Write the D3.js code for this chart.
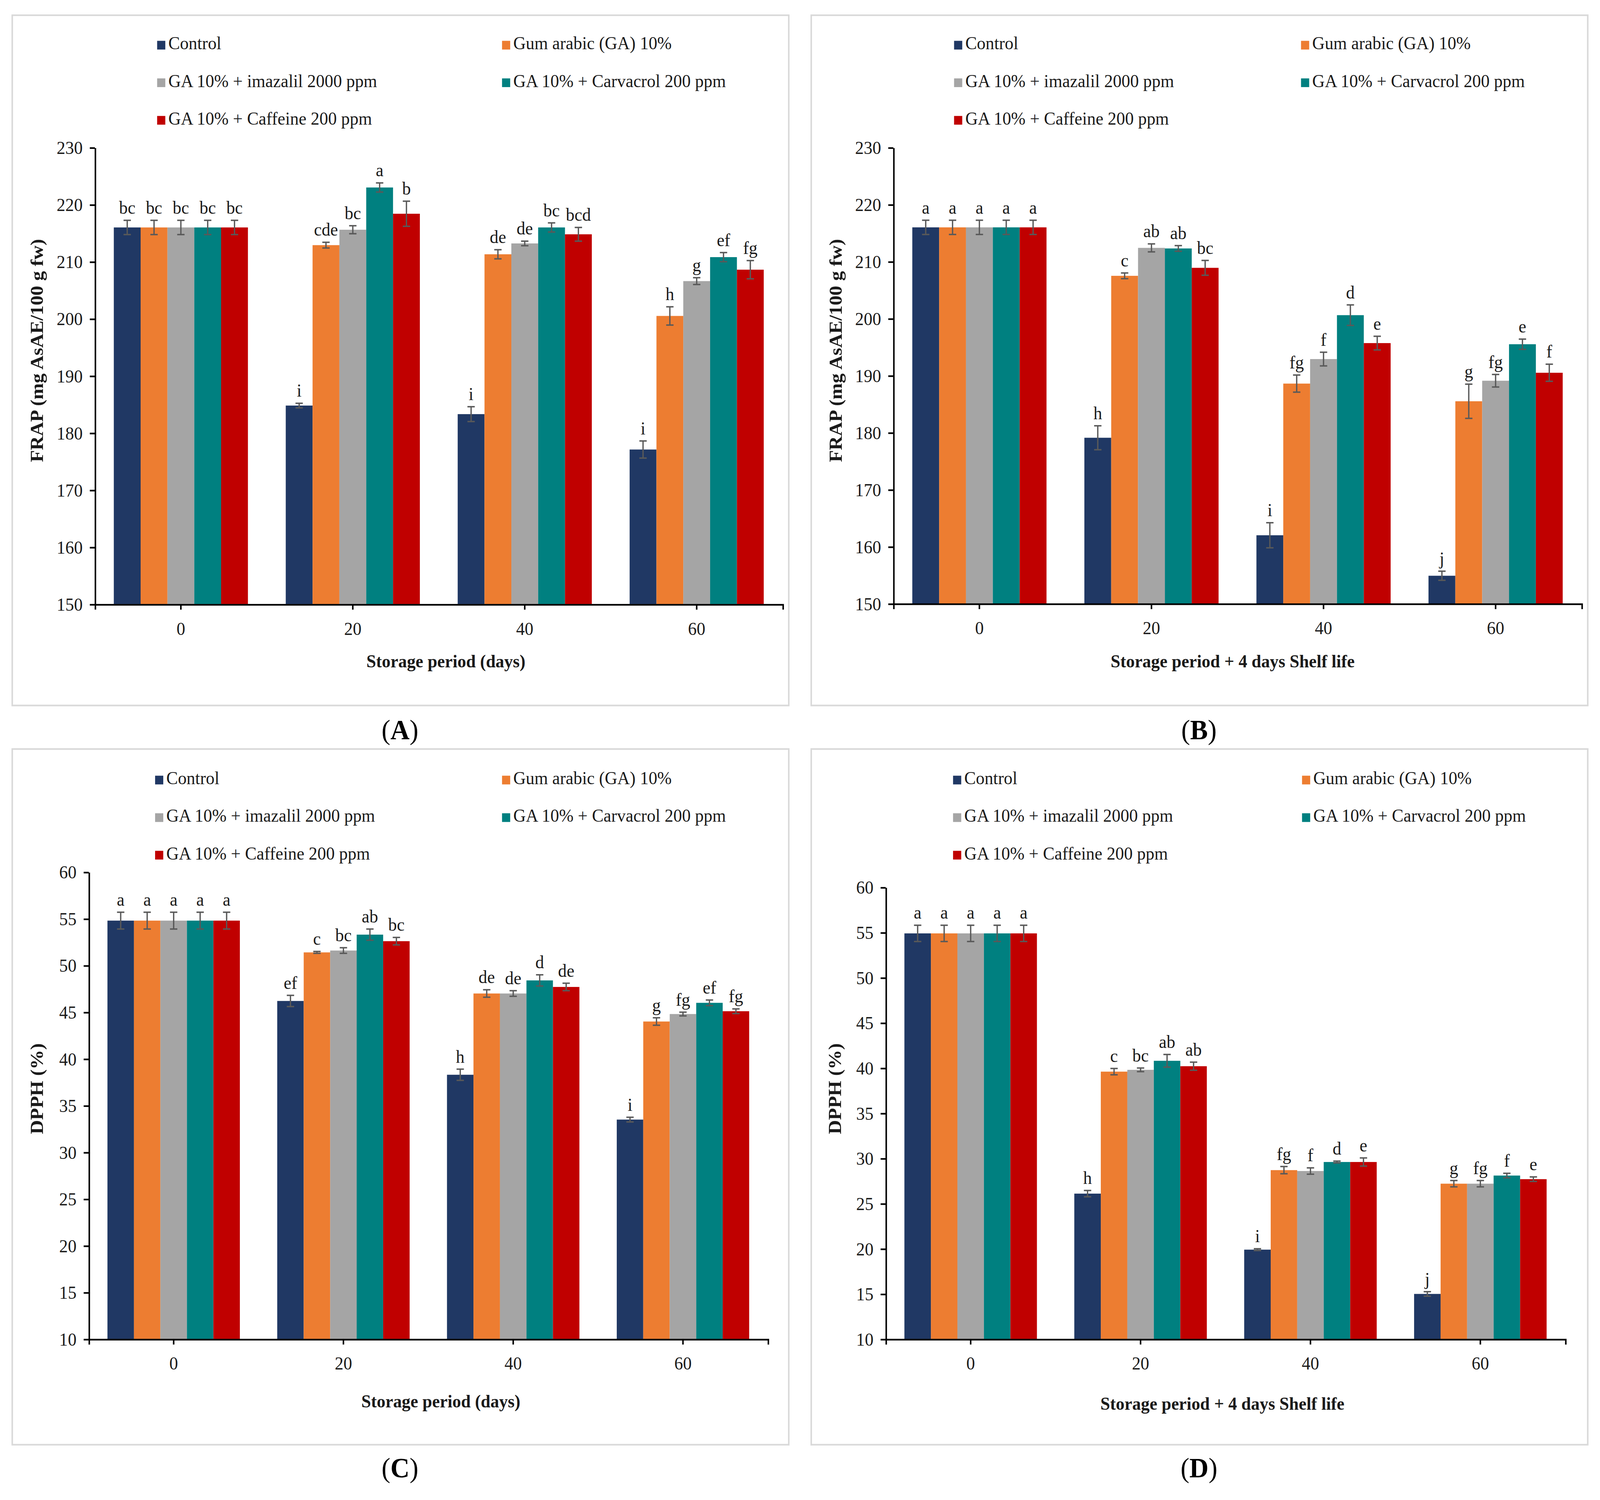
<!DOCTYPE html>
<html>
<head>
<meta charset="utf-8">
<script src="https://cdn.jsdelivr.net/npm/d3@7"></script>
<style>
  html, body { margin: 0; padding: 0; background: #fff; overflow: hidden; }
  #figure { display: block; width: 100vw; height: 100vh; }
  svg text { font-family: "Liberation Serif", "Times New Roman", serif; }
</style>
</head>
<body>
<svg id="figure"></svg>
<script>
const treatments = ["Control", "Gum arabic (GA) 10%", "GA 10% + imazalil 2000 ppm",
                    "GA 10% + Carvacrol 200 ppm", "GA 10% + Caffeine 200 ppm"];
const colors = ["#203864", "#ED7D31", "#A5A5A5", "#008080", "#C00000"];
const days = ["0", "20", "40", "60"];

// (A) FRAP, storage period (rows = treatments, columns = days)
const frapStorageMeans = [
    [216.0, 184.8, 183.3, 177.1],
    [216.0, 212.9, 211.3, 200.5],
    [216.0, 215.6, 213.2, 206.6],
    [216.0, 223.0, 216.0, 210.8],
    [216.0, 218.4, 214.8, 208.6]
];
const frapStorageErrors = [
    [1.25, 0.4, 1.3, 1.5],
    [1.25, 0.5, 0.8, 1.6],
    [1.25, 0.7, 0.4, 0.6],
    [1.25, 0.8, 0.8, 0.8],
    [1.25, 2.2, 1.2, 1.6]
];
const frapStorageLetters = [
    ["bc", "i", "i", "i"],
    ["bc", "cde", "de", "h"],
    ["bc", "bc", "de", "g"],
    ["bc", "a", "bc", "ef"],
    ["bc", "b", "bcd", "fg"]
];

// (B) FRAP, storage + 4 days shelf life
const frapShelfMeans = [
    [216.0, 179.1, 162.0, 154.9],
    [216.0, 207.5, 188.6, 185.5],
    [216.0, 212.4, 192.9, 189.1],
    [216.0, 212.3, 200.6, 195.5],
    [216.0, 208.9, 195.7, 190.5]
];
const frapShelfErrors = [
    [1.25, 2.1, 2.2, 0.8],
    [1.25, 0.5, 1.5, 3.0],
    [1.25, 0.7, 1.2, 1.1],
    [1.25, 0.5, 1.8, 0.9],
    [1.25, 1.3, 1.2, 1.5]
];
const frapShelfLetters = [
    ["a", "h", "i", "j"],
    ["a", "c", "fg", "g"],
    ["a", "ab", "f", "fg"],
    ["a", "ab", "d", "e"],
    ["a", "bc", "e", "f"]
];

// (C) DPPH, storage period
const dpphStorageMeans = [
    [54.8, 46.2, 38.3, 33.5],
    [54.8, 51.4, 47.0, 44.0],
    [54.8, 51.6, 47.0, 44.8],
    [54.8, 53.3, 48.4, 46.0],
    [54.8, 52.6, 47.7, 45.1]
];
const dpphStorageErrors = [
    [0.9, 0.6, 0.6, 0.25],
    [0.9, 0.1, 0.4, 0.4],
    [0.9, 0.3, 0.3, 0.2],
    [0.9, 0.6, 0.6, 0.3],
    [0.9, 0.4, 0.4, 0.25]
];
const dpphStorageLetters = [
    ["a", "ef", "h", "i"],
    ["a", "c", "de", "g"],
    ["a", "bc", "de", "fg"],
    ["a", "ab", "d", "ef"],
    ["a", "bc", "de", "fg"]
];

// (D) DPPH, storage + 4 days shelf life
const dpphShelfMeans = [
    [54.9, 26.1, 19.9, 15.0],
    [54.9, 39.6, 28.7, 27.2],
    [54.9, 39.8, 28.6, 27.2],
    [54.9, 40.8, 29.6, 28.1],
    [54.9, 40.2, 29.6, 27.7]
];
const dpphShelfErrors = [
    [0.9, 0.35, 0.1, 0.25],
    [0.9, 0.35, 0.4, 0.35],
    [0.9, 0.2, 0.35, 0.35],
    [0.9, 0.7, 0.1, 0.25],
    [0.9, 0.45, 0.45, 0.25]
];
const dpphShelfLetters = [
    ["a", "h", "i", "j"],
    ["a", "c", "fg", "g"],
    ["a", "bc", "f", "fg"],
    ["a", "ab", "d", "f"],
    ["a", "ab", "e", "e"]
];

const W = 1568, H = W * 3839 / 4369;

const svg = d3.select('#figure')
    .attr('viewBox', `0 0 ${W} ${H}`)
    .attr('preserveAspectRatio', 'none');

svg.append('rect').attr('width', W).attr('height', H).attr('fill', '#fff');

class BarPanel {

    constructor( config, means, errors, letters ) {
        this.config = config;
        this.means = means;
        this.errors = errors;
        this.letters = letters;
        this.init();
    }

    init() {
        let self = this;
        const c = self.config;

        self.g = svg.append('g');

        self.g.append('rect')
            .attr('x', c.frame[0]).attr('y', c.frame[1])
            .attr('width', c.frame[2]).attr('height', c.frame[3])
            .attr('fill', '#fff')
            .attr('stroke', '#d9d9d9')
            .attr('stroke-width', 1.5);

        self.xscale = d3.scaleBand()
            .domain( days )
            .range( [c.left, c.right] )
            .paddingInner( 0.22 )
            .paddingOuter( 0.11 );

        self.subscale = d3.scaleBand()
            .domain( d3.range(treatments.length) )
            .range( [0, self.xscale.bandwidth()] );

        self.yscale = d3.scaleLinear()
            .domain( c.domain )
            .range( [c.bottom, c.top] );
    }

    render() {
        let self = this;
        const c = self.config;
        const cap = 3.6;

        // bars, error bars and letters
        treatments.forEach( (t, i) => {
            const rows = days.map( (d, j) => ({ day: d, v: self.means[i][j], e: self.errors[i][j], l: self.letters[i][j] }) );
            const gx = d => self.xscale(d.day) + self.subscale(i);
            const cx = d => gx(d) + self.subscale.bandwidth() / 2;

            self.g.append('g').selectAll('rect')
                .data(rows).enter().append('rect')
                .attr('x', gx)
                .attr('y', d => self.yscale(d.v))
                .attr('width', self.subscale.bandwidth())
                .attr('height', d => c.bottom - self.yscale(d.v))
                .attr('fill', colors[i]);

            const eb = self.g.append('g')
                .attr('stroke', '#595959')
                .attr('stroke-width', 1.3);
            eb.selectAll('.stem').data(rows).enter().append('line')
                .attr('x1', cx).attr('x2', cx)
                .attr('y1', d => self.yscale(d.v - d.e))
                .attr('y2', d => self.yscale(d.v + d.e));
            eb.selectAll('.capTop').data(rows).enter().append('line')
                .attr('x1', d => cx(d) - cap).attr('x2', d => cx(d) + cap)
                .attr('y1', d => self.yscale(d.v + d.e))
                .attr('y2', d => self.yscale(d.v + d.e));
            eb.selectAll('.capBot').data(rows).enter().append('line')
                .attr('x1', d => cx(d) - cap).attr('x2', d => cx(d) + cap)
                .attr('y1', d => self.yscale(d.v - d.e))
                .attr('y2', d => self.yscale(d.v - d.e));

            self.g.append('g').selectAll('text')
                .data(rows).enter().append('text')
                .attr('x', cx)
                .attr('y', d => self.yscale(d.v + d.e) - 6)
                .attr('text-anchor', 'middle')
                .attr('font-size', 17)
                .attr('fill', '#1a1a1a')
                .text(d => d.l);
        });

        // axes
        const xaxis = self.g.append('g')
            .attr('transform', `translate(0, ${c.bottom})`)
            .call( d3.axisBottom(self.xscale).tickSize(5).tickSizeOuter(5).tickPadding(11) );
        const yaxis = self.g.append('g')
            .attr('transform', `translate(${c.left}, 0)`)
            .call( d3.axisLeft(self.yscale).tickValues(c.ticks).tickSize(5).tickSizeOuter(0).tickPadding(7) );

        [xaxis, yaxis].forEach( a => {
            a.attr('font-family', null).attr('font-size', 17);
            a.selectAll('path, line').attr('stroke', '#000').attr('stroke-width', 1.5);
            a.selectAll('text').attr('fill', '#1a1a1a');
        });

        // axis titles
        self.g.append('text')
            .attr('x', c.xTitle[0]).attr('y', c.xTitle[1])
            .attr('text-anchor', 'middle')
            .attr('dominant-baseline', 'middle')
            .attr('font-size', 17)
            .attr('font-weight', 'bold')
            .attr('fill', '#1a1a1a')
            .text(c.xLabel);

        self.g.append('text')
            .attr('transform', `translate(${c.yTitle[0]}, ${c.yTitle[1]}) rotate(-90)`)
            .attr('text-anchor', 'middle')
            .attr('dominant-baseline', 'middle')
            .attr('font-size', 18)
            .attr('font-weight', 'bold')
            .attr('fill', '#1a1a1a')
            .text(c.yLabel);

        // legend
        const leg = self.g.append('g');
        treatments.forEach( (t, i) => {
            const col = i % 2, row = Math.floor(i / 2);
            const x = c.legendX[col], y = c.legendY + row * c.legendDy;
            leg.append('rect')
                .attr('x', x).attr('y', y - 4)
                .attr('width', 8).attr('height', 8)
                .attr('fill', colors[i]);
            leg.append('text')
                .attr('x', x + 11).attr('y', y)
                .attr('dominant-baseline', 'middle')
                .attr('font-size', 17)
                .attr('fill', '#1a1a1a')
                .text(t);
        });

        // panel label
        const lab = svg.append('text')
            .attr('x', c.label[0]).attr('y', c.label[1])
            .attr('text-anchor', 'middle')
            .attr('dominant-baseline', 'middle')
            .attr('font-size', 26)
            .attr('fill', '#000');
        lab.append('tspan').text('(');
        lab.append('tspan').attr('font-weight', 'bold').text(c.letter);
        lab.append('tspan').text(')');
    }
}

const frapLabel = "FRAP (mg AsAE/100 g fw)";
const dpphLabel = "DPPH (%)";
const storageLabel = "Storage period (days)";
const shelfLabel = "Storage period + 4 days Shelf life";

const panels = [
    [{ frame: [12, 14, 761, 634], left: 93, right: 767, top: 135.5, bottom: 555,
       domain: [150, 230], ticks: d3.range(150, 231, 10),
       xTitle: [437, 609], yTitle: [38, 322], xLabel: storageLabel, yLabel: frapLabel,
       legendX: [154, 492], legendY: 41.5, legendDy: 34.5, label: [392, 673], letter: 'A' },
     frapStorageMeans, frapStorageErrors, frapStorageLetters],
    [{ frame: [795, 14, 761, 634], left: 875.5, right: 1550, top: 135.5, bottom: 554.5,
       domain: [150, 230], ticks: d3.range(150, 231, 10),
       xTitle: [1208, 609], yTitle: [821, 322], xLabel: shelfLabel, yLabel: frapLabel,
       legendX: [935, 1275], legendY: 41.5, legendDy: 34.5, label: [1175, 673], letter: 'B' },
     frapShelfMeans, frapShelfErrors, frapShelfLetters],
    [{ frame: [12, 688, 761, 639], left: 87, right: 752.5, top: 801, bottom: 1230,
       domain: [10, 60], ticks: d3.range(10, 61, 5),
       xTitle: [432, 1289], yTitle: [38, 1000], xLabel: storageLabel, yLabel: dpphLabel,
       legendX: [152, 492], legendY: 716.5, legendDy: 34.5, label: [392, 1351], letter: 'C' },
     dpphStorageMeans, dpphStorageErrors, dpphStorageLetters],
    [{ frame: [795, 688, 761, 639], left: 868, right: 1534, top: 815, bottom: 1230,
       domain: [10, 60], ticks: d3.range(10, 61, 5),
       xTitle: [1198, 1291], yTitle: [820, 1000], xLabel: shelfLabel, yLabel: dpphLabel,
       legendX: [934, 1276], legendY: 716.5, legendDy: 34.5, label: [1175, 1351], letter: 'D' },
     dpphShelfMeans, dpphShelfErrors, dpphShelfLetters]
];

panels.forEach( p => {
    const panel = new BarPanel( p[0], p[1], p[2], p[3] );
    panel.render();
});
</script>
</body>
</html>
